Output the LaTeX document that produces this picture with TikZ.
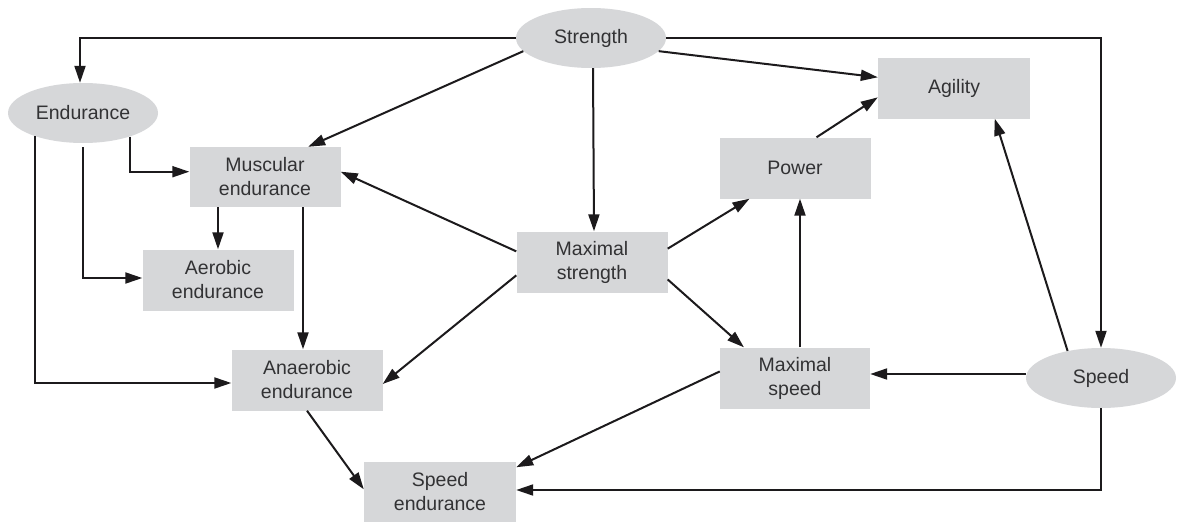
\documentclass[tikz,border=0pt]{standalone}
\usepackage{fontspec}
\setmainfont{Liberation Sans}
\usetikzlibrary{shapes.geometric,arrows.meta}
\definecolor{boxgray}{RGB}{214,215,217}
\definecolor{txtgray}{RGB}{50,50,52}
\definecolor{linecol}{RGB}{28,26,28}
\tikzset{
  lbl/.style={text=txtgray,font=\fontsize{19.5}{24}\selectfont,align=center,inner sep=0pt},
  oval/.style={lbl,ellipse,fill=boxgray,minimum width=150pt,minimum height=60pt},
  gbox/.style={lbl,rectangle,fill=boxgray,minimum width=151pt,minimum height=61pt},
  conn/.style={draw=linecol,line width=2pt,-{Triangle[length=17pt,width=11pt]}},
}
\begin{document}
\begin{tikzpicture}[x=1pt,y=-1pt]
\useasboundingbox (0,0) rectangle (1177,522);
\fill[white] (0,0) rectangle (1177,522);
% nodes
\node[oval] (str) at (591,38) {Strength};
\node[oval] (endu) at (83,113) {Endurance};
\node[oval] (spd) at (1101,378) {Speed};
\node[gbox,minimum width=152pt] (agi) at (954,88) {Agility};
\node[gbox] (pow) at (795,168) {Power};
\node[gbox,minimum height=60pt] (mus) at (265,177) {Muscular\\endurance};
\node[gbox] (aer) at (218,280) {Aerobic\\endurance};
\node[gbox] (ana) at (307,380) {Anaerobic\\endurance};
\node[gbox] (mst) at (592,262) {Maximal\\strength};
\node[gbox,minimum width=150pt] (msp) at (795,378) {Maximal\\speed};
\node[gbox,minimum width=152pt,minimum height=60pt] (sen) at (440,492) {Speed\\endurance};
% connectors
\draw[conn] (str.west) -| ([xshift=-3pt]endu.north);
\draw[conn] (str.east) -| (spd.north);
\draw[conn] (str.-11) -- (agi.172);
\draw[conn] (str.191) -- (mus.35);
\draw[conn] ([xshift=2pt]str.south) -- ([xshift=2pt]mst.north);
\draw[conn] (endu.-27) |- (mus.176);
\draw[conn] ([yshift=-4pt]endu.south) |- ([yshift=2pt]aer.west);
\draw[conn] (endu.206) |- ([yshift=-3pt]ana.west);
\draw[conn] (mus.south -| aer.north) -- (aer.north);
\draw[conn] ([xshift=-4pt]mus.south -| ana.north) -- ([xshift=-4pt]ana.north);
\draw[conn] (mst.172) -- (mus.4);
\draw[conn] (mst.190) -- (ana.-3);
\draw[conn] (mst.10) -- (pow.214);
\draw[conn] (mst.-13) -- (msp.149);
\draw[conn] (pow.55) -- (agi.187);
\draw[conn] ([xshift=5pt]msp.north) -- ([xshift=5pt]pow.south);
\draw[conn] ([yshift=4pt]spd.west) -- ([yshift=4pt]msp.east);
\draw[conn] (spd.141) -- (agi.-37);
\draw[conn] (msp.175) -- (sen.18);
\draw[conn] (ana.south) -- (sen.178);
\draw[conn] (spd.south) |- ([yshift=2pt]sen.east);
\end{tikzpicture}
\end{document}
